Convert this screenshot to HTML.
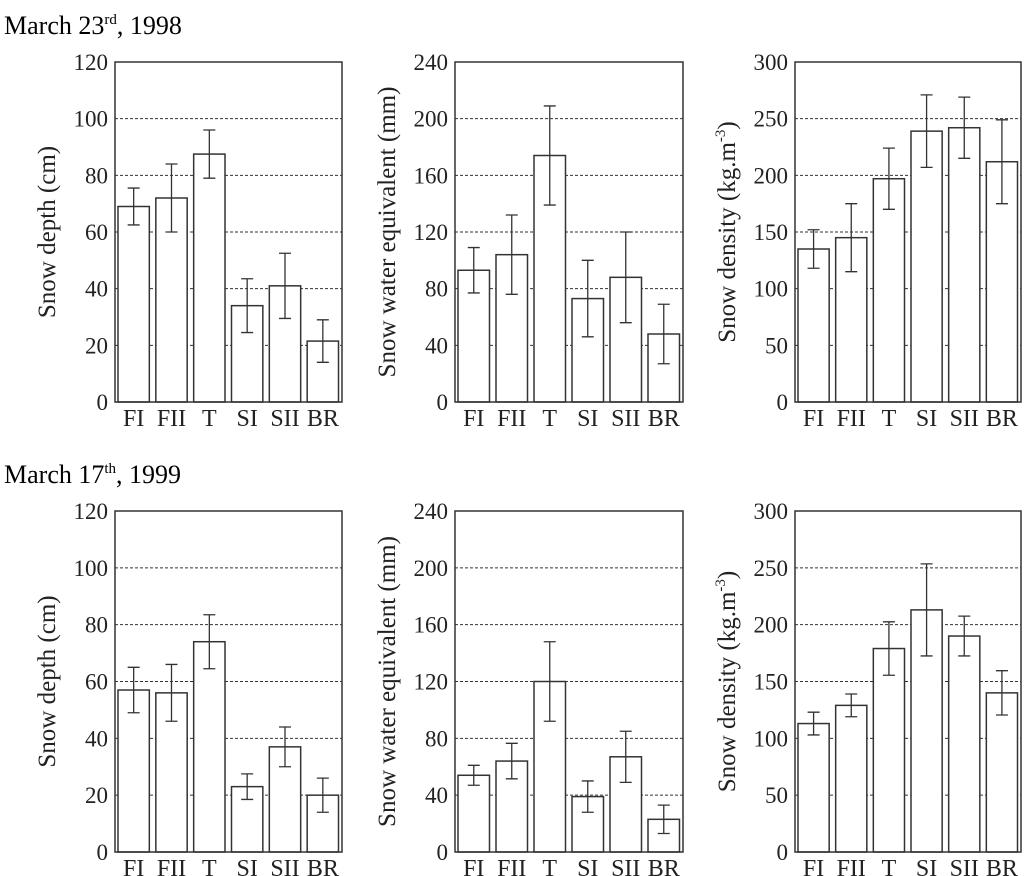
<!DOCTYPE html>
<html><head><meta charset="utf-8"><style>
body{margin:0;background:#fff;}
svg{display:block;font-family:"Liberation Serif",serif;}
</style></head><body>
<svg id="c" width="1024" height="876">
<text x="4" y="34" font-size="26">March 23<tspan font-size="15" dy="-10">rd</tspan><tspan dy="10">, 1998</tspan></text>
<text x="4" y="483" font-size="26">March 17<tspan font-size="15" dy="-10">th</tspan><tspan dy="10">, 1999</tspan></text>
</svg>
<script>
const categories=["FI","FII","T","SI","SII","BR"];
const depth98=[69,72,87.5,34,41,21.5];
const depth98Err=[6.5,12,8.5,9.5,11.5,7.5];
const swe98=[93,104,174,73,88,48];
const swe98Err=[16,28,35,27,32,21];
const dens98=[135,145,197,239,242,212];
const dens98Err=[17,30,27,32,27,37];
const depth99=[57,56,74,23,37,20];
const depth99Err=[8,10,9.5,4.5,7,6];
const swe99=[54,64,120,39,67,23];
const swe99Err=[7,12.5,28,11,18,10];
const dens99=[113,129,179,213,190,140];
const dens99Err=[10,10,23.5,40.5,17.5,19.5];
const depthTicks=[0,20,40,60,80,100,120];
const sweTicks=[0,40,80,120,160,200,240];
const densTicks=[0,50,100,150,200,250,300];

const NS="http://www.w3.org/2000/svg";
const svg=document.getElementById('c');
function mk(tag,attrs,parent){const e=document.createElementNS(NS,tag);for(const k in attrs)e.setAttribute(k,attrs[k]);(parent||svg).appendChild(e);return e;}

function panel(name,x0,x1,y0,y1,ticks,vals,errs,title,sup){
  const g=mk('g',{});
  
  
  const max=ticks[ticks.length-1];
  const ys=v=>y1-(v/max)*(y1-y0);
  const slot=(x1-x0)/categories.length;
  ticks.forEach((t,i)=>{
    if(i>0&&i<ticks.length-1){
      const l=mk('line',{x1:x0,x2:x1,y1:ys(t),y2:ys(t),stroke:'#333','stroke-width':1,'stroke-dasharray':'3,2'},g);
      
      
    }
    const tx=mk('text',{x:x0-7,y:ys(t)+8,'font-size':23,'text-anchor':'end',fill:'#222'},g);
    tx.textContent=t;
    
    
  });
  categories.forEach((c,i)=>{
    const bx=x0+3+i*slot, bw=slot-6.5, cx=bx+bw/2;
    const r=mk('rect',{x:bx,y:ys(vals[i]),width:bw,height:y1-ys(vals[i]),fill:'#fff',stroke:'#333','stroke-width':1.5},g);
    
    
    const hi=ys(vals[i]+errs[i]), lo=ys(vals[i]-errs[i]);
    const p=mk('path',{d:`M${cx},${hi}V${lo}M${cx-6},${hi}H${cx+6}M${cx-6},${lo}H${cx+6}`,stroke:'#333','stroke-width':1.3,fill:'none'},g);
    
    
    const t=mk('text',{x:cx,y:y1+24,'font-size':24,'text-anchor':'middle',fill:'#222'},g);
    t.textContent=c;
    
    
  });
  const f=mk('rect',{x:x0,y:y0,width:x1-x0,height:y1-y0,fill:'none',stroke:'#333','stroke-width':1.5},g);
  
  
  const cy=(y0+y1)/2, tx=x0-68;
  const yt=mk('text',{x:tx,y:cy+8,'font-size':25,'text-anchor':'middle',fill:'#222',transform:`rotate(-90 ${tx} ${cy})`},g);
  
  
  if(sup){yt.innerHTML=title+'<tspan font-size="15" dy="-10">-3</tspan><tspan dy="10">)</tspan>';}
  else yt.textContent=title;
}
panel('depth-1998',115,342,62,402,depthTicks,depth98,depth98Err,'Snow depth (cm)');
panel('swe-1998',455,683,62,402,sweTicks,swe98,swe98Err,'Snow water equivalent (mm)');
panel('density-1998',795,1021,62,402,densTicks,dens98,dens98Err,'Snow density (kg.m',true);
panel('depth-1999',115,342,511,852,depthTicks,depth99,depth99Err,'Snow depth (cm)');
panel('swe-1999',455,683,511,852,sweTicks,swe99,swe99Err,'Snow water equivalent (mm)');
panel('density-1999',795,1021,511,852,densTicks,dens99,dens99Err,'Snow density (kg.m',true);
</script>
</body></html>
